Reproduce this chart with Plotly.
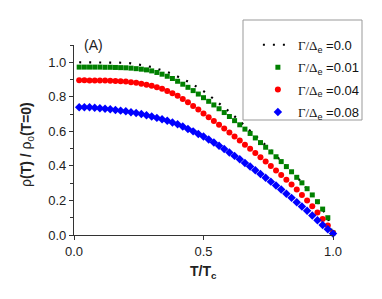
import plotly.graph_objects as go

t = [0.02, 0.04, 0.06, 0.08, 0.10, 0.12, 0.14, 0.16, 0.18, 0.20,
     0.22, 0.24, 0.26, 0.28, 0.30, 0.32, 0.34, 0.36, 0.38, 0.40,
     0.42, 0.44, 0.46, 0.48, 0.50, 0.52, 0.54, 0.56, 0.58, 0.60,
     0.62, 0.64, 0.66, 0.68, 0.70, 0.72, 0.74, 0.76, 0.78, 0.80,
     0.82, 0.84, 0.86, 0.88, 0.90, 0.92, 0.94, 0.96, 0.98, 1.00]

rho_g000 = [1.000, 1.000, 1.000, 1.000, 1.000, 1.000, 1.000, 1.000, 1.000, 0.997,
            0.994, 0.990, 0.985, 0.979, 0.972, 0.964, 0.955, 0.944, 0.932, 0.918,
            0.903, 0.888, 0.871, 0.853, 0.833, 0.811, 0.788, 0.764, 0.739, 0.714,
            0.687, 0.660, 0.632, 0.605, 0.578, 0.549, 0.520, 0.490, 0.460, 0.430,
            0.399, 0.368, 0.336, 0.302, 0.268, 0.232, 0.193, 0.150, 0.100, 0.000]

rho_g001 = [0.972, 0.972, 0.972, 0.972, 0.972, 0.971, 0.971, 0.970, 0.969, 0.968,
            0.966, 0.963, 0.960, 0.956, 0.950, 0.941, 0.931, 0.919, 0.906, 0.890,
            0.873, 0.855, 0.836, 0.816, 0.795, 0.774, 0.753, 0.731, 0.709, 0.686,
            0.662, 0.638, 0.613, 0.588, 0.562, 0.535, 0.508, 0.481, 0.453, 0.425,
            0.396, 0.366, 0.334, 0.302, 0.268, 0.232, 0.193, 0.150, 0.100, 0.012]

rho_g004 = [0.896, 0.896, 0.895, 0.895, 0.895, 0.894, 0.893, 0.892, 0.890, 0.888,
            0.885, 0.881, 0.876, 0.870, 0.864, 0.856, 0.846, 0.834, 0.821, 0.806,
            0.788, 0.768, 0.747, 0.726, 0.704, 0.682, 0.660, 0.638, 0.616, 0.593,
            0.570, 0.547, 0.523, 0.499, 0.475, 0.450, 0.425, 0.399, 0.373, 0.347,
            0.320, 0.292, 0.263, 0.232, 0.200, 0.166, 0.130, 0.092, 0.055, 0.012]

rho_g008 = [0.740, 0.740, 0.739, 0.737, 0.734, 0.731, 0.728, 0.724, 0.720, 0.716,
            0.711, 0.706, 0.700, 0.693, 0.686, 0.678, 0.670, 0.661, 0.651, 0.641,
            0.628, 0.614, 0.600, 0.585, 0.570, 0.553, 0.535, 0.517, 0.498, 0.478,
            0.458, 0.438, 0.417, 0.396, 0.375, 0.353, 0.331, 0.309, 0.286, 0.263,
            0.239, 0.215, 0.190, 0.165, 0.140, 0.113, 0.086, 0.058, 0.033, 0.008]

gamma_labels = ["0.0", "0.01", "0.04", "0.08"]
y_ticks = [0.0, 0.2, 0.4, 0.6, 0.8, 1.0]
x_ticks = [0.0, 0.5, 1.0]

SERIF = "Liberation Serif"
SANS = "Liberation Sans"


def leg(v):
    return ('<span style="font-family:%s">Γ/Δ</span><sub>e</sub> =%s' % (SERIF, v))


# page has an 8px body margin; compensate so the plot lands where the reference has it
OFF = 8
W, H = 382 - OFF, 299 - OFF
PL, PR, PT, PB = 74, 333, 45, 235  # plot area in window pixels


def xp(px):
    return (px - PL) / (PR - PL)


def yp(py):
    return (PB - py) / (PB - PT)


fig = go.Figure()
fig.add_trace(go.Scatter(x=t, y=rho_g000, mode="lines", name=leg(gamma_labels[0]),
                         legendgroup="a",
                         line=dict(color="black", width=2.2, dash="2px,8px"),
                         cliponaxis=False))
fig.add_trace(go.Scatter(x=t, y=rho_g001, mode="markers", name=leg(gamma_labels[1]),
                         legendgroup="b",
                         marker=dict(symbol="square", size=5, color="#008000"),
                         cliponaxis=False))
fig.add_trace(go.Scatter(x=t, y=rho_g004, mode="markers", name=leg(gamma_labels[2]),
                         legendgroup="c",
                         marker=dict(symbol="circle", size=6, color="#ff0000"),
                         cliponaxis=False))
fig.add_trace(go.Scatter(x=t, y=rho_g008, mode="markers", name=leg(gamma_labels[3]),
                         legendgroup="d",
                         marker=dict(symbol="diamond", size=6.5, color="#0000ff"),
                         cliponaxis=False))

fig.update_layout(
    width=W, height=H,
    margin=dict(l=PL - OFF, r=W - (PR - OFF), t=PT - OFF, b=H - (PB - OFF), pad=0),
    paper_bgcolor="white", plot_bgcolor="white",
    font=dict(family=SANS, size=13, color="#222222"),
    showlegend=True,
    legend=dict(x=0.71, y=1.08, xanchor="left", yanchor="top",
                bgcolor="rgba(0,0,0,0)", borderwidth=0,
                font=dict(family=SANS, size=13, color="#111111"),
                itemwidth=30, tracegroupgap=2.5),
    xaxis=dict(range=[0, 1.0], tickvals=x_ticks, ticktext=["%.1f" % v for v in x_ticks],
               showgrid=False, zeroline=False, showline=True, linecolor="#333333",
               linewidth=1.3, ticks="outside", ticklen=4, tickwidth=1, tickcolor="#333333",
               tickfont=dict(size=13)),
    yaxis=dict(range=[0, 1.1], tickvals=y_ticks, ticktext=["%.1f" % v for v in y_ticks],
               showgrid=False, zeroline=False, showline=True, linecolor="#333333",
               linewidth=1.3, ticks="outside", ticklen=4, tickwidth=1, tickcolor="#333333",
               tickfont=dict(size=13),
               minor=dict(dtick=0.1, tick0=0, ticks="outside", ticklen=2.5, tickcolor="#333333")),
    shapes=[dict(type="rect", xref="paper", yref="paper",
                 x0=xp(243), x1=xp(362), y0=yp(120), y1=yp(20),
                 line=dict(color="#999999", width=1), fillcolor="rgba(0,0,0,0)")],
    annotations=[
        dict(text="(A)", xref="paper", yref="paper", x=xp(93), y=yp(45),
             xanchor="center", yanchor="middle", showarrow=False, font=dict(size=14)),
        dict(text="<b>T/T<sub>c</sub></b>", xref="paper", yref="paper",
             x=xp(203), y=yp(272),
             xanchor="center", yanchor="middle", showarrow=False, font=dict(size=14)),
        dict(text="ρ<b>(T) / </b>ρ<sub>0</sub><b>(T=0)</b>", xref="paper", yref="paper",
             x=xp(27), y=yp(145), textangle=-90,
             xanchor="center", yanchor="middle", showarrow=False, font=dict(size=14)),
    ],
)

fig.write_html("out.html")
